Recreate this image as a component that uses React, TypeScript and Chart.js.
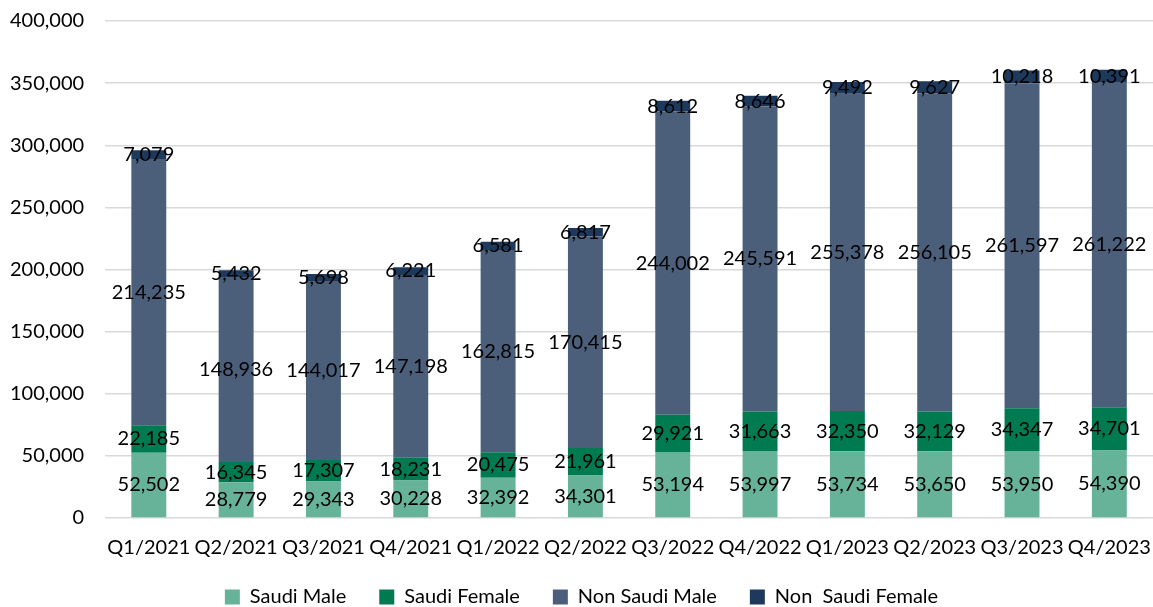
import React, { useEffect, useRef } from "react";
import { Chart, registerables } from "chart.js";

Chart.register(...registerables);

const categories = ["Q1/2021", "Q2/2021", "Q3/2021", "Q4/2021", "Q1/2022", "Q2/2022", "Q3/2022", "Q4/2022", "Q1/2023", "Q2/2023", "Q3/2023", "Q4/2023"];
const saudiMale = [52502, 28779, 29343, 30228, 32392, 34301, 53194, 53997, 53734, 53650, 53950, 54390];
const saudiFemale = [22185, 16345, 17307, 18231, 20475, 21961, 29921, 31663, 32350, 32129, 34347, 34701];
const nonSaudiMale = [214235, 148936, 144017, 147198, 162815, 170415, 244002, 245591, 255378, 256105, 261597, 261222];
const nonSaudiFemale = [7079, 5432, 5698, 6221, 6581, 6817, 8612, 8646, 9492, 9627, 10218, 10391];
const seriesNames = ["Saudi Male", "Saudi Female", "Non Saudi Male", "Non  Saudi Female"];
const seriesColors = ["#66b39a", "#007a50", "#4b5f7b", "#1d3a5d"];
const yTicks = { min: 0, max: 400000, step: 50000 };

const FONT = "Lato, 'Open Sans', sans-serif";

const fmt = (v: number) => v.toLocaleString("en-US");

const labelPlugin = {
  id: "segLabels",
  afterDatasetsDraw(chart: any) {
    const ctx = chart.ctx;
    ctx.save();
    ctx.font = `20px ${FONT}`;
    ctx.fillStyle = "#000000";
    ctx.textAlign = "center";
    ctx.textBaseline = "middle";
    chart.data.datasets.forEach((ds: any, di: number) => {
      const meta = chart.getDatasetMeta(di);
      if (meta.hidden) return;
      meta.data.forEach((el: any, i: number) => {
        const y = (el.y + el.base) / 2;
        ctx.fillText(fmt(ds.data[i]), el.x, y);
      });
    });
    ctx.restore();
  },
};

export default function App() {
  const ref = useRef<HTMLCanvasElement>(null);
  useEffect(() => {
    if (!ref.current) return;
    const data = [saudiMale, saudiFemale, nonSaudiMale, nonSaudiFemale];
    const chart = new Chart(ref.current, {
      type: "bar",
      data: {
        labels: categories,
        datasets: data.map((d, i) => ({
          label: seriesNames[i],
          data: d,
          backgroundColor: seriesColors[i],
          borderWidth: 0,
          barPercentage: 0.8,
          categoryPercentage: 0.5,
        })),
      },
      options: {
        animation: false,
        responsive: true,
        maintainAspectRatio: false,
        layout: { padding: { top: 21, left: 10, right: 0, bottom: -10 } },
        plugins: {
          legend: {
            position: "bottom",
            labels: {
              font: { family: FONT, size: 20 },
              color: "#000000",
              boxWidth: 15,
              boxHeight: 15,
              padding: 33,
            },
          },
          tooltip: { enabled: false },
        },
        scales: {
          x: {
            stacked: true,
            grid: { display: false, drawTicks: true, tickLength: 18 },
            border: { display: false },
            ticks: {
              font: { family: FONT, size: 20 },
              color: "#000000",
              padding: 0,
              maxRotation: 0,
              minRotation: 0,
              autoSkip: true,
              autoSkipPadding: 0,
            },
            afterFit: (s: any) => {
              s.height = 36;
              s._computeLabelArea = () => undefined;
            },
          },
          y: {
            stacked: true,
            min: yTicks.min,
            max: yTicks.max,
            grid: { color: "#d9d9d9", lineWidth: 1.5, drawTicks: true, tickLength: 21, tickColor: "rgba(0,0,0,0)" },
            border: { display: false },
            ticks: {
              stepSize: yTicks.step,
              font: { family: FONT, size: 20 },
              color: "#000000",
              padding: 0,
              callback: (v: any) => fmt(Number(v)),
            },
          },
        },
      },
      plugins: [labelPlugin],
    });
    return () => chart.destroy();
  }, []);
  return (
    <div style={{ position: "fixed", left: 0, top: 0, width: 1153, height: 607, background: "#ffffff" }}>
      <canvas ref={ref} />
    </div>
  );
}
